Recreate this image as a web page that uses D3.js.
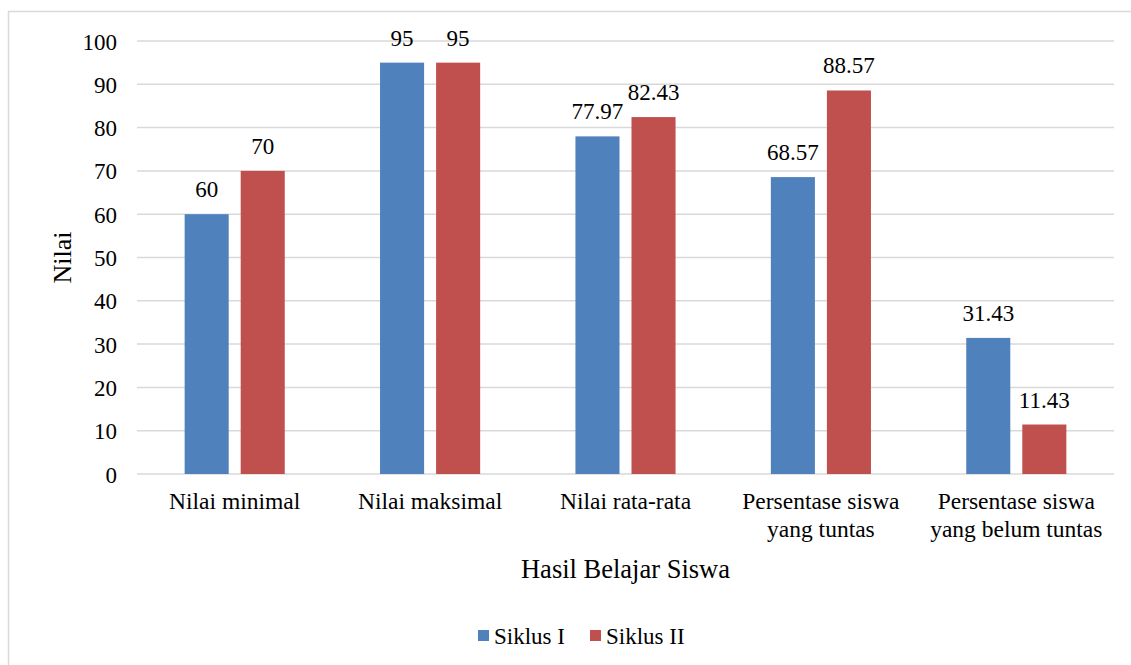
<!DOCTYPE html>
<html>
<head>
<meta charset="utf-8">
<script src="https://cdn.jsdelivr.net/npm/d3@7"></script>
<style>
    body { margin: 0; background: #fff; }
    text { font-family: "Liberation Serif", "Times New Roman", serif; fill: #000; }
</style>
</head>
<body>
<div id="chart"></div>
<script>
const categories = [
    ["Nilai minimal"],
    ["Nilai maksimal"],
    ["Nilai rata-rata"],
    ["Persentase siswa", "yang tuntas"],
    ["Persentase siswa", "yang belum tuntas"]
];
const seriesNames = ["Siklus I", "Siklus II"];
const siklus1 = [60, 95, 77.97, 68.57, 31.43];
const siklus2 = [70, 95, 82.43, 88.57, 11.43];
const yTicks = [0, 10, 20, 30, 40, 50, 60, 70, 80, 90, 100];

const WIDTH = 1131,
    HEIGHT = 665,
    PLOT = { LEFT: 137, RIGHT: 1114, TOP: 41, BOTTOM: 474 },
    COLORS = ["#4F81BD", "#C0504D"];

const rows = categories.map((c, i) => ({
    key: c.join(" "),
    lines: c,
    values: [siklus1[i], siklus2[i]]
}));

const svg = d3.select("#chart")
    .append("svg")
    .attr("width", WIDTH)
    .attr("height", HEIGHT);

// outer frame
svg.append("rect")
    .attr("x", 8.5)
    .attr("y", 11.5)
    .attr("width", WIDTH)
    .attr("height", HEIGHT)
    .attr("fill", "none")
    .attr("stroke", "#D9D9D9")
    .attr("stroke-width", 1.5);

// Scales
const x0 = d3.scaleBand()
    .domain(rows.map(d => d.key))
    .range([PLOT.LEFT, PLOT.RIGHT])
    .padding(0);
const x1 = d3.scaleBand()
    .domain(seriesNames)
    .range([0, x0.bandwidth()])
    .paddingInner(0.214)
    .paddingOuter(0.85);
const yScale = d3.scaleLinear()
    .domain([0, 100])
    .range([PLOT.BOTTOM, PLOT.TOP]);

// Gridlines
svg.append("g")
    .selectAll("line")
    .data(yTicks)
    .join("line")
    .attr("x1", PLOT.LEFT)
    .attr("x2", PLOT.RIGHT)
    .attr("y1", d => yScale(d))
    .attr("y2", d => yScale(d))
    .attr("stroke", "#D9D9D9")
    .attr("stroke-width", 1.5);

// Y axis labels
const yAxis = svg.append("g")
    .attr("transform", `translate(${PLOT.LEFT - 20}, 0)`)
    .call(d3.axisLeft(yScale).tickValues(yTicks).tickSize(0).tickPadding(0));
yAxis.select(".domain").remove();
yAxis.selectAll("text")
    .style("font-family", "'Liberation Serif', serif")
    .style("font-size", "23px")
    .attr("dy", "0.35em");

// Bars
const groups = svg.append("g")
    .selectAll("g")
    .data(rows)
    .join("g")
    .attr("transform", d => `translate(${x0(d.key)}, 0)`);

groups.selectAll("rect")
    .data(d => d.values.map((v, i) => ({ series: seriesNames[i], value: v, idx: i })))
    .join("rect")
    .attr("x", d => x1(d.series))
    .attr("y", d => yScale(d.value))
    .attr("width", x1.bandwidth())
    .attr("height", d => yScale(0) - yScale(d.value))
    .attr("fill", d => COLORS[d.idx]);

groups.selectAll("text")
    .data(d => d.values.map((v, i) => ({ series: seriesNames[i], value: v })))
    .join("text")
    .attr("x", d => x1(d.series) + x1.bandwidth() / 2)
    .attr("y", d => yScale(d.value) - 17)
    .attr("text-anchor", "middle")
    .style("font-size", "23px")
    .text(d => d.value);

// Category labels
const catLabels = svg.append("g")
    .selectAll("text")
    .data(rows)
    .join("text")
    .attr("x", d => x0(d.key) + x0.bandwidth() / 2)
    .attr("y", 509)
    .attr("text-anchor", "middle")
    .style("font-size", "23.5px");
catLabels.selectAll("tspan")
    .data(d => d.lines)
    .join("tspan")
    .attr("x", function () { return d3.select(this.parentNode).attr("x"); })
    .attr("dy", (d, i) => i === 0 ? 0 : 28)
    .text(d => d);

// Axis titles
svg.append("text")
    .attr("transform", "rotate(-90)")
    .attr("x", -(PLOT.TOP + PLOT.BOTTOM) / 2)
    .attr("y", 71)
    .attr("text-anchor", "middle")
    .style("font-size", "26px")
    .text("Nilai");

svg.append("text")
    .attr("x", (PLOT.LEFT + PLOT.RIGHT) / 2)
    .attr("y", 578)
    .attr("text-anchor", "middle")
    .style("font-size", "26.5px")
    .text("Hasil Belajar Siswa");

// Legend
const legend = svg.append("g");
const legendX = [478, 590];
seriesNames.forEach((name, i) => {
    legend.append("rect")
        .attr("x", legendX[i])
        .attr("y", 630)
        .attr("width", 11)
        .attr("height", 11)
        .attr("fill", COLORS[i]);
    legend.append("text")
        .attr("x", legendX[i] + 16)
        .attr("y", 644)
        .style("font-size", "23px")
        .text(name);
});
</script>
</body>
</html>
